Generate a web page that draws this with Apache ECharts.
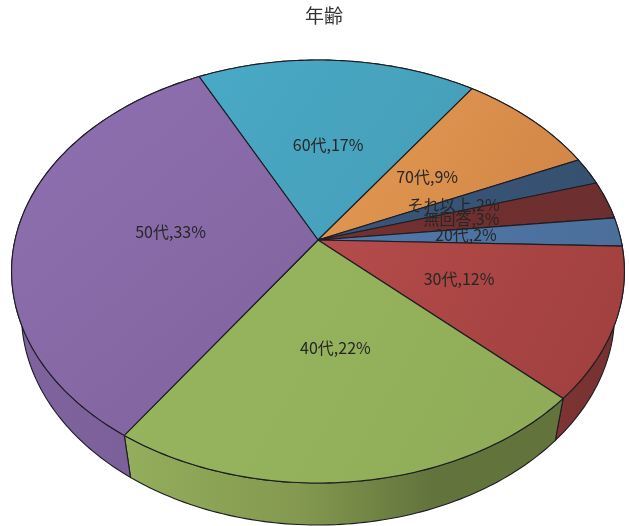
<!DOCTYPE html>
<html><head><meta charset="utf-8">
<style>html,body{margin:0;padding:0;background:#fff}#c{width:629px;height:526px}</style>
<script src="https://cdn.jsdelivr.net/npm/echarts@6/dist/echarts.min.js"></script>
</head><body><div id="c"></div>
<script>
const categories = ['60代','70代','それ以上','無回答','20代','30代','40代','50代'];
const shares = [17, 8.6, 2.1, 2.9, 2.2, 11.6, 22.4, 33.2];
const faceStart = ['#49a9c6','#e59a52','#38567c','#74302f','#4f78aa','#b44c4a','#98b65e','#8f70b2'];
const faceEnd = ['#459db6','#cf8446','#37506f','#6c2f2f','#4c6f9a','#9f3f3e','#8fab58','#7f639b'];
const sideStart = ['#3b8298','#b06f38','#2c4058','#5a2626','#3c5a80','#7e3533','#93ae5c','#7f639e'];
const sideEnd = ['#3b8298','#b06f38','#2c4058','#5a2626','#3c5a80','#74302f','#62743c','#7a5f96'];

// Layout of the tilted disc
const cx = 318, cy = 240, R = 303, A = 206.8, k = 0.149;
const depth = 42, bottomScale = 0.968, startDeg = -116.4, labelRadius = 0.49;
const total = shares.reduce((a, b) => a + b, 0);
const edges = [startDeg];
shares.forEach(v => edges.push(edges[edges.length - 1] + v / total * 360));

function project(f, deg) {
  const t = deg * Math.PI / 180, c = f * Math.cos(t), s = f * Math.sin(t), w = 1 - k * s;
  return [R * c / w, A * s / w];
}
const topPt = (f, d) => { const p = project(f, d); return [cx + p[0], cy + p[1]]; };
const lowPt = (f, d) => { const p = project(f, d); return [cx + p[0] * bottomScale, cy + p[1] + depth]; };
function arc(fn, a, b) {
  const pts = [], n = Math.max(2, Math.ceil(Math.abs(b - a)));
  for (let j = 0; j <= n; j++) pts.push(fn(1, a + (b - a) * j / n));
  return pts;
}
const lineColor = '#1c1c24';
const seriesData = shares.map((v, i) => ({ name: categories[i], value: [i, v] }));

function renderWall(params, api) {
  const i = api.value(0);
  const points = arc(topPt, edges[i], edges[i + 1]).concat(arc(lowPt, edges[i + 1], edges[i]));
  return { type: 'polygon', shape: { points },
    style: { fill: new echarts.graphic.LinearGradient(0, 0, 1, 0, i === 6
        ? [{ offset: 0, color: sideStart[i] }, { offset: 0.4, color: '#84994f' }, { offset: 0.7, color: sideEnd[i] }, { offset: 1, color: sideEnd[i] }]
        : [{ offset: 0, color: sideStart[i] }, { offset: 1, color: sideEnd[i] }]),
      stroke: lineColor, lineWidth: 1.1 } };
}
function renderFace(params, api) {
  const i = api.value(0);
  const points = [[cx, cy]].concat(arc(topPt, edges[i], edges[i + 1]));
  return { type: 'polygon', shape: { points },
    style: { fill: new echarts.graphic.LinearGradient(0, 0, 1, 1,
      [{ offset: 0, color: faceStart[i] }, { offset: 1, color: faceEnd[i] }]),
      stroke: lineColor, lineWidth: 1.1 } };
}
function renderLabel(params, api) {
  const i = api.value(0), p = topPt(labelRadius, (edges[i] + edges[i + 1]) / 2);
  return { type: 'text', x: p[0], y: p[1] - 1,
    style: { text: categories[i] + ',' + Math.round(api.value(1)) + '%', fill: '#262626',
      font: '400 16px "Noto Sans CJK JP"', align: 'center', verticalAlign: 'middle' } };
}
const chart = echarts.init(document.getElementById('c'), null, { renderer: 'canvas' });
chart.setOption({
  animation: false,
  backgroundColor: '#ffffff',
  title: { text: '年齢', left: 300, top: 1, textStyle: { fontFamily: 'Noto Sans CJK JP', fontSize: 19, fontWeight: 400, color: '#333' } },
  series: [
    { type: 'custom', coordinateSystem: 'none', silent: true, z: 1, data: seriesData, renderItem: renderWall },
    { type: 'custom', coordinateSystem: 'none', silent: true, z: 2, data: seriesData, renderItem: renderFace },
    { type: 'custom', coordinateSystem: 'none', silent: true, z: 3, data: seriesData, renderItem: renderLabel }
  ]
});
</script></body></html>
